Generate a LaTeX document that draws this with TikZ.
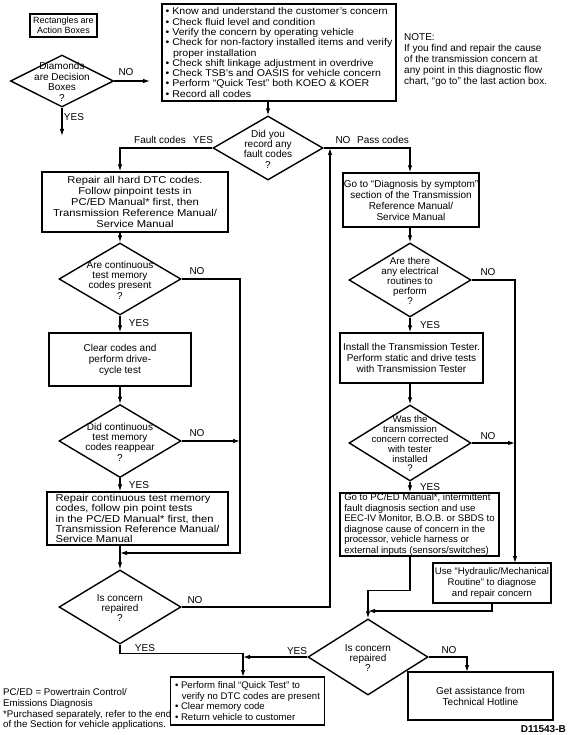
\documentclass[tikz,border=0pt]{standalone}
\usepackage{fontspec}
\setmainfont{Liberation Sans}
\newfontfamily\wf{Liberation Sans}[FakeStretch=1.12]
\newfontfamily\wt{Liberation Sans}[FakeStretch=1.08]
\usetikzlibrary{shapes.geometric,arrows.meta,calc}
\begin{document}
\begin{tikzpicture}[x=1pt,y=-1pt,
  every node/.style={font=\fontsize{10}{11}\selectfont},
  fw/.style={font=\wf\fontsize{10}{10.9}\selectfont},
  fs/.style={font=\fontsize{9.6}{10.6}\selectfont},
  abox/.style={draw,line width=1.4pt,inner sep=0pt},
  dia/.style={diamond,draw,line width=1.4pt,inner sep=0pt},
  dtext/.style={align=center,inner sep=0pt,font=\fontsize{10}{10.3}\selectfont},
  lbl/.style={inner sep=1pt},
  arr/.style={line width=1.1pt,-{Latex[length=7pt,width=4.5pt]}},
  ln/.style={line width=1.1pt}]
\useasboundingbox (0,0) rectangle (568,735);
% legend
\node[abox,line width=1.8pt,minimum width=67,minimum height=23,align=center,font=\fontsize{9}{10}\selectfont] (lbox) at (63.5,25.5) {Rectangles are\\Action Boxes};
\node[dia,minimum width=103,minimum height=52] (ldia) at (62,81) {};
\node[dtext,font=\fontsize{10}{10.5}\selectfont] at ($(ldia)+(0,1)$) {Diamonds\\are Decision\\Boxes\\?};
\coordinate (lno) at (150,81);
\coordinate (lyes) at (62,136);
\draw[arr] (ldia.east) -- (lno);
\draw[arr] (ldia.south) -- (lyes);
\node[lbl] at (126,72) {NO};
\node[lbl] at (74,117) {YES};
% note
\node[align=left,anchor=north west,inner sep=0pt] (note) at (404,33) {NOTE:\\If you find and repair the cause\\of the transmission concern at\\any point in this diagnostic flow\\chart, “go to” the last action box.};
% top box
\node[abox,minimum width=234,minimum height=97,align=left,font=\wt\fontsize{9.8}{10.3}\selectfont] (top) at (279,52.5) {%
•~Know and understand the customer’s concern\\
•~Check fluid level and condition\\
•~Verify the concern by operating vehicle\\
•~Check for non-factory installed items and verify\\
\hspace*{0.75em}proper installation\\
•~Check shift linkage adjustment in overdrive\\
•~Check TSB’s and OASIS for vehicle concern\\
•~Perform “Quick Test” both KOEO \& KOER\\
•~Record all codes};
% decision 1
\node[dia,minimum width=110,minimum height=64] (d1) at (268,148) {};
\node[dtext] at ($(d1)+(0,1)$) {Did you\\record any\\fault codes\\?};
\draw[arr] (top.south -| d1.north) -- (d1.north);
% left column
\node[abox,minimum width=186,minimum height=60,align=center,fw] (L1) at (135,202) {Repair all hard DTC codes.\\Follow pinpoint tests in\\PC/ED Manual* first, then\\Transmission Reference Manual/\\Service Manual};
\node[dia,minimum width=122,minimum height=72] (L2) at (120,279) {};
\node[dtext] at ($(L2)+(0,1)$) {Are continuous\\test memory\\codes present\\?};
\node[abox,minimum width=142,minimum height=53,align=center] (L3) at (120,359.5) {Clear codes and\\perform drive-\\cycle test};
\node[dia,minimum width=122,minimum height=73] (L4) at (120,441) {};
\node[dtext] at ($(L4)+(0,1)$) {Did continuous\\test memory\\codes reappear\\?};
\node[abox,minimum width=181,minimum height=53,align=left,font=\wf\fontsize{10}{10.3}\selectfont] (L5) at (137.5,518.5) {Repair continuous test memory\\codes, follow pin point tests\\in the PC/ED Manual* first, then\\Transmission Reference Manual/\\Service Manual};
\node[dia,minimum width=122,minimum height=74] (d4) at (120,607) {};
\node[dtext] at ($(d4)+(0,1)$) {Is concern\\repaired\\?};
% right column
\node[abox,minimum width=136,minimum height=54,align=center] (R1) at (411,200) {Go to “Diagnosis by symptom”\\section of the Transmission\\Reference Manual/\\Service Manual};
\node[dia,minimum width=122,minimum height=74] (R2) at (410,280) {};
\node[dtext,font=\fontsize{9.8}{10.2}\selectfont] at ($(R2)+(0,1)$) {Are there\\any electrical\\routines to\\perform\\?};
\node[abox,minimum width=143,minimum height=50,align=center] (R3) at (411.5,358) {Install the Transmission Tester.\\Perform static and drive tests\\with Transmission Tester};
\node[dia,minimum width=122,minimum height=76] (R4) at (410,443) {};
\node[dtext,font=\fontsize{9.6}{9.8}\selectfont] at ($(R4)+(0,1)$) {Was the\\transmission\\concern corrected\\with tester\\installed\\?};
\node[abox,minimum width=159,minimum height=63,align=left,fs] (R5) at (419.5,524.5) {Go to PC/ED Manual*, intermittent\\fault diagnosis section and use\\EEC-IV Monitor, B.O.B. or SBDS to\\diagnose cause of concern in the\\processor, vehicle harness or\\external inputs (sensors/switches)};
\node[abox,minimum width=118,minimum height=40,align=center,font=\fontsize{9.6}{10.8}\selectfont] (hyd) at (492,583) {Use “Hydraulic/Mechanical\\Routine” to diagnose\\and repair concern};
\node[dia,minimum width=120,minimum height=76] (d5) at (368,657) {};
\node[dtext] at ($(d5)+(0,1)$) {Is concern\\repaired\\?};
\node[abox,minimum width=145,minimum height=48,align=center] (ht) at (480.5,696) {Get assistance from\\Technical Hotline};
\node[abox,minimum width=154,minimum height=48,align=left,fs] (bb) at (247.5,701) {•~Perform final “Quick Test” to\\\hspace*{0.7em}verify no DTC codes are present\\•~Clear memory code\\•~Return vehicle to customer};
% footnotes
\node[align=left,anchor=north west,inner sep=0pt,font=\fontsize{9.7}{10.9}\selectfont] (foot) at (3,688) {PC/ED = Powertrain Control/\\Emissions Diagnosis\\*Purchased separately, refer to the end\\of the Section for vehicle applications.};
\node[anchor=east,inner sep=0pt,font=\fontsize{10}{11}\selectfont\bfseries] (code) at (566,729) {D11543-B};
% coordinates
\coordinate (vl) at (240,553);
\coordinate (jl) at (120,553);
\coordinate (up) at (330,148);
\coordinate (vr) at (515,563);
\coordinate (j5) at (368,611);
\coordinate (hn) at (467,672);
\coordinate (jb) at (243,677);
% connectors
\draw[arr] (d1.west) -| (L1.north -| L2.north);
\draw[arr] (d1.east) -| (R1.north -| R2.north);
\draw[arr] (L1.south -| L2.north) -- (L2.north);
\draw[arr] (L2.south) -- (L3.north);
\draw[arr] (L3.south) -- (L4.north);
\draw[arr] (L4.south) -- (L4.south |- L5.north);
\draw[arr] (L5.south -| d4.north) -- (d4.north);
\draw[arr] (L2.east) -| (vl) -- (jl);
\draw[arr] (L4.east) -- (L4.east -| vl);
\draw[arr] (d4.east) -| (up);
\draw[arr] (d4.south) -- ++(0,9) -| (jb);
\draw[arr] (R1.south -| R2.north) -- (R2.north);
\draw[arr] (R2.south) -- (R2.south |- R3.north);
\draw[arr] (R3.south -| R4.north) -- (R4.north);
\draw[arr] (R4.south) -- (R4.south |- R5.north);
\draw[arr] (R2.east) -| (vr);
\draw[arr] (R4.east) -- (R4.east -| vr);
\draw[arr] (R5.south -| R4.south) -- ++(0,34) -| (d5.north);
\draw[arr] (hyd.south) |- (j5);
\draw[arr] (d5.west) -- (d5.west -| jb);
\draw[arr] (d5.east) -| (hn);
% labels
\node[lbl] at (160,140) {Fault codes};
\node[lbl] at (203,140) {YES};
\node[lbl] at (343,140) {NO};
\node[lbl] at (383,140) {Pass codes};
\node[lbl] at (197,271) {NO};
\node[lbl] at (139,323) {YES};
\node[lbl] at (197,433) {NO};
\node[lbl] at (139,485) {YES};
\node[lbl] at (195,600) {NO};
\node[lbl] at (145,648) {YES};
\node[lbl] at (488,272) {NO};
\node[lbl] at (430,325) {YES};
\node[lbl] at (488,436) {NO};
\node[lbl] at (430,487) {YES};
\node[lbl] at (297,651) {YES};
\node[lbl] at (449,650) {NO};
\end{tikzpicture}
\end{document}
